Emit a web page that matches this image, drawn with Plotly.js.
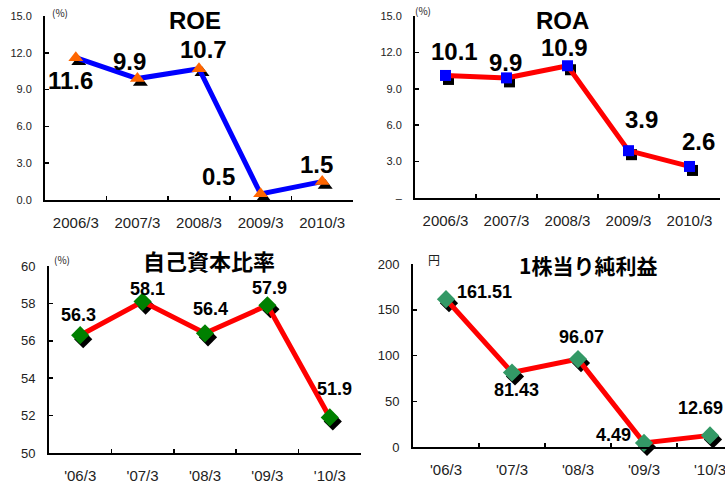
<!DOCTYPE html>
<html>
<head>
<meta charset="utf-8">
<script src="https://cdn.plot.ly/plotly-3.0.1.min.js"></script>
<style>html,body{margin:0;padding:0;background:#fff;}#chart{width:725px;height:490px;}</style>
</head>
<body>
<div id="chart"></div>
<script>
// ---- data ----
const categoriesLong = ['2006/3', '2007/3', '2008/3', '2009/3', '2010/3'];
const categoriesShort = ["'06/3", "'07/3", "'08/3", "'09/3", "'10/3"];
const roe = [11.6, 9.9, 10.7, 0.5, 1.5];
const roa = [10.1, 9.9, 10.9, 3.9, 2.6];
const equityRatio = [56.3, 58.1, 56.4, 57.9, 51.9];
const eps = [161.51, 81.43, 96.07, 4.49, 12.69];
const titles = ['ROE', 'ROA', '自己資本比率', '1株当り純利益'];
const units = ['(%)', '(%)', '(%)', '円'];

// ---- styling / layout config ----
const W = 725, H = 490;
const panels = [
  { cats: categoriesLong, vals: roe, digits: 1, left: 45, right: 353, top: 16, bottom: 200, yr: [0, 15], dtick: 3, tickfmt: v => v.toFixed(1), zeroText: null,
    line: '#0000FF', lw: 5, marker: '#FF6600', symbol: 'triangle-up', msize: 13,
    lblFont: 24, lblOff: [[-5, -23], [-8, 17], [4, 19], [-42, 17], [-6, 17]],
    title: { x: 195, y: 21, size: 24, font: 'Liberation Sans, Arial, sans-serif' }, unit: { x: 60, y: 13, size: 10 } },
  { cats: categoriesLong, vals: roa, digits: 1, left: 415, right: 720, top: 16, bottom: 198, yr: [0, 15], dtick: 3, tickfmt: v => v.toFixed(1), zeroText: '–',
    line: '#FF0000', lw: 5, marker: '#0000FF', symbol: 'square', msize: 11,
    lblFont: 24, lblOff: [[9, 24], [-1, 15], [-3, 18], [13, 31], [9, 25]],
    title: { x: 562, y: 20, size: 24, font: 'Liberation Sans, Arial, sans-serif' }, unit: { x: 423, y: 10, size: 10 } },
  { cats: categoriesShort, vals: equityRatio, digits: 1, left: 49, right: 361, top: 266, bottom: 453, yr: [50, 60], dtick: 2, tickfmt: v => String(v), zeroText: null,
    line: '#FF0000', lw: 5, marker: '#008000', symbol: 'diamond', msize: 14,
    lblFont: 18, lblOff: [[-2, 20], [5, 13], [5, 24], [2, 17], [5, 28]],
    title: { x: 209, y: 260, size: 22, font: 'Noto Sans CJK JP, sans-serif' }, unit: { x: 62, y: 259, size: 10 } },
  { cats: categoriesShort, vals: eps, digits: 2, left: 413, right: 725, top: 264, bottom: 447, yr: [0, 200], dtick: 50, tickfmt: v => String(v), zeroText: null,
    line: '#FF0000', lw: 5, marker: '#339966', symbol: 'diamond', msize: 14,
    lblFont: 18, lblOff: [[38, 7], [4, -18], [3, 22], [-31, 8], [-10, 27]],
    title: { x: 588, y: 265, size: 21, font: 'Noto Sans CJK JP, sans-serif' }, unit: { x: 434, y: 259, size: 12 }, catWidth: 66 }
];
const shadowDx = 3, shadowDy = 4;
const numFont = 'Liberation Sans, Arial, sans-serif';

const traces = [];
const layout = {
  width: W, height: H, margin: { l: 0, r: 0, t: 0, b: 0 },
  paper_bgcolor: '#ffffff', plot_bgcolor: 'rgba(0,0,0,0)',
  showlegend: false, annotations: []
};

panels.forEach((p, i) => {
  const n = p.cats.length;
  const sIdx = i + 1, mIdx = i + 5;
  const sx = 'x' + (sIdx === 1 ? '' : sIdx), sy = 'y' + (sIdx === 1 ? '' : sIdx);
  const mx = 'x' + mIdx, my = 'y' + mIdx;
  const widthPx = p.right - p.left;
  const catW = p.catWidth || widthPx / n;
  const xr = [-0.5, -0.5 + widthPx / catW];
  const k = catW;

  // shadow axes (invisible, shifted)
  const s0 = p.left + shadowDx, s1 = Math.min(p.right + shadowDx, W);
  layout['xaxis' + (sIdx === 1 ? '' : sIdx)] = {
    domain: [s0 / W, s1 / W], range: [xr[0], xr[0] + (s1 - s0) / k], type: 'category',
    categoryarray: p.cats, visible: false, anchor: sy, fixedrange: true
  };
  layout['yaxis' + (sIdx === 1 ? '' : sIdx)] = {
    domain: [(H - p.bottom - shadowDy) / H, (H - p.top - shadowDy) / H], range: p.yr,
    visible: false, anchor: sx, fixedrange: true
  };
  traces.push({
    x: p.cats, y: p.vals, xaxis: sx, yaxis: sy, type: 'scatter', mode: 'markers',
    marker: { symbol: p.symbol, size: p.msize, color: '#000000' }, cliponaxis: false, hoverinfo: 'skip'
  });

  // main axes
  const tickvals = [];
  for (let v = p.yr[0]; v <= p.yr[1] + 1e-9; v += p.dtick) tickvals.push(v);
  const ticktext = tickvals.map(v => (v === 0 && p.zeroText) ? p.zeroText : p.tickfmt(v));
  layout['xaxis' + mIdx] = {
    domain: [p.left / W, p.right / W], range: xr, type: 'category', categoryarray: p.cats,
    anchor: my, showline: true, linecolor: '#000', linewidth: 2, showgrid: false, zeroline: false,
    ticks: 'inside', tickson: 'boundaries', ticklen: 4, tickwidth: 1.5, tickcolor: '#000',
    tickfont: { family: numFont, size: 15, color: '#222' }, ticklabelstandoff: 8, fixedrange: true
  };
  layout['yaxis' + mIdx] = {
    domain: [(H - p.bottom) / H, (H - p.top) / H], range: p.yr, anchor: mx,
    showline: true, linecolor: '#000', linewidth: 2, showgrid: false, zeroline: false,
    ticks: 'inside', ticklen: 4, tickwidth: 1.5, tickcolor: '#000',
    tickmode: 'array', tickvals: tickvals, ticktext: ticktext,
    tickfont: { family: numFont, size: (i < 2 ? 11 : 13), color: '#222' }, ticklabelstandoff: 9, fixedrange: true
  };
  traces.push({
    x: p.cats, y: p.vals, xaxis: mx, yaxis: my, type: 'scatter', mode: 'lines+markers',
    line: { color: p.line, width: p.lw },
    marker: { symbol: p.symbol, size: p.msize, color: p.marker }, cliponaxis: false, hoverinfo: 'skip'
  });

  // data labels
  p.vals.forEach((v, j) => {
    layout.annotations.push({
      x: p.cats[j], y: v, xref: mx, yref: my, text: v.toFixed(p.digits), showarrow: false,
      xshift: p.lblOff[j][0], yshift: p.lblOff[j][1],
      font: { family: numFont, size: p.lblFont, color: '#000', weight: 'bold' }
    });
  });

  // title
  layout.annotations.push({
    x: p.title.x / W, y: 1 - p.title.y / H, xref: 'paper', yref: 'paper', text: titles[i],
    showarrow: false, xanchor: 'center', yanchor: 'middle',
    font: { family: p.title.font, size: p.title.size, color: '#000', weight: 'bold' }
  });
  // unit
  layout.annotations.push({
    x: p.unit.x / W, y: 1 - p.unit.y / H, xref: 'paper', yref: 'paper', text: units[i],
    showarrow: false, xanchor: 'center', yanchor: 'middle',
    font: { family: 'Noto Sans CJK JP, sans-serif', size: p.unit.size, color: '#222' }
  });
});

Plotly.newPlot('chart', traces, layout, { staticPlot: true, displayModeBar: false });
</script>
</body>
</html>
